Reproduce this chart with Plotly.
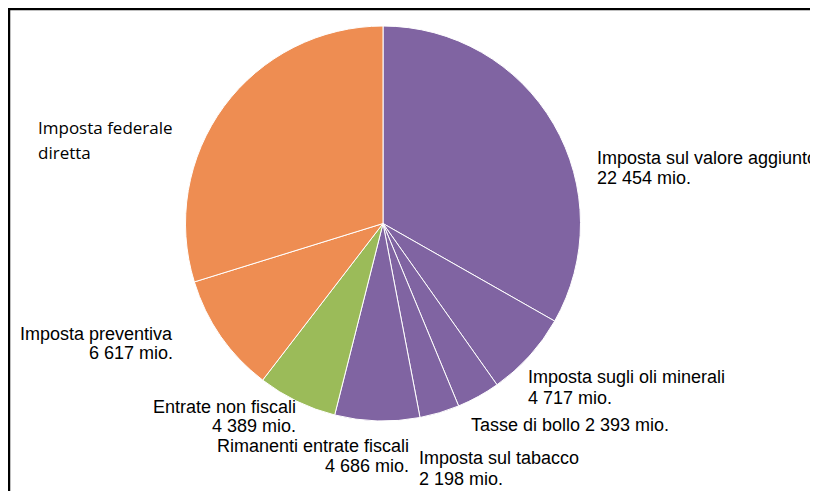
import plotly.graph_objects as go

# page body has an 8px margin, so the figure is drawn 8px in from the window edge
OFF = 8
W, H = 818 - OFF, 491 - OFF

categories = [
    "Imposta sul valore aggiunto",
    "Imposta sugli oli minerali",
    "Tasse di bollo",
    "Imposta sul tabacco",
    "Rimanenti entrate fiscali",
    "Entrate non fiscali",
    "Imposta preventiva",
    "Imposta federale diretta",
]
values = [22454, 4717, 2393, 2198, 4686, 4389, 6617, 20125]
colors = ["#8064A2", "#8064A2", "#8064A2", "#8064A2", "#8064A2",
          "#9BBB59", "#EE8D52", "#EE8D52"]


def vstr(v):
    return f"{v:,}".replace(",", " ") + " mio."


label_lines = [
    [categories[0], vstr(values[0])],
    [categories[1], vstr(values[1])],
    [categories[2] + " " + vstr(values[2])],
    [categories[3], vstr(values[3])],
    [categories[4], vstr(values[4])],
    [categories[5], vstr(values[5])],
    [categories[6], vstr(values[6])],
    ["Imposta federale", "diretta"],
]

# label placement (window pixels): x, y-centres of each line, anchor, font, size
label_pos = [
    (595.5, [157.6, 177.6], "left", "Liberation Sans, Arial", 18),
    (527, [376.9, 397.6], "left", "Liberation Sans, Arial", 18),
    (470, [424.6], "left", "Liberation Sans, Arial", 18),
    (417.5, [457.9, 478.6], "left", "Liberation Sans, Arial", 18),
    (409.5, [446.3, 465.9], "right", "Liberation Sans, Arial", 18),
    (296.7, [406.9, 425.9], "right", "Liberation Sans, Arial", 18),
    (173.5, [333.6, 352.6], "right", "Liberation Sans, Arial", 18),
    (36.5, [127.1, 152.1], "left", "Open Sans", 17),
]

cx, cy, r = 383 - OFF, 223.5 - OFF, 197.5

fig = go.Figure(go.Pie(
    labels=categories,
    values=values,
    marker=dict(colors=colors, line=dict(color="white", width=1)),
    sort=False,
    direction="clockwise",
    rotation=0,
    textinfo="none",
    textposition="none",
    hoverinfo="label+value",
    showlegend=False,
    domain=dict(x=[(cx - r) / W, (cx + r) / W],
                y=[1 - (cy + r) / H, 1 - (cy - r) / H]),
))

annotations = []
for lines, (px, pys, anchor, fam, fs) in zip(label_lines, label_pos):
    for txt, py in zip(lines, pys):
        annotations.append(dict(
            x=(px - OFF) / W, y=1 - (py - OFF) / H, xref="paper", yref="paper",
            text=txt, showarrow=False, xanchor=anchor, yanchor="middle",
            align=anchor, borderpad=0,
            font=dict(family=fam, size=fs, color="#000000"),
        ))

shapes = [
    dict(type="line", xref="paper", yref="paper",
         x0=0, x1=1.0, y0=1 - 1 / H, y1=1 - 1 / H,
         line=dict(color="black", width=2.5)),
    dict(type="line", xref="paper", yref="paper",
         x0=1 / W, x1=1 / W, y0=1, y1=0,
         line=dict(color="black", width=2.5)),
]

fig.update_layout(
    width=W, height=H,
    margin=dict(l=0, r=0, t=0, b=0),
    paper_bgcolor="white",
    plot_bgcolor="white",
    annotations=annotations,
    shapes=shapes,
)

fig.write_html("out.html")
